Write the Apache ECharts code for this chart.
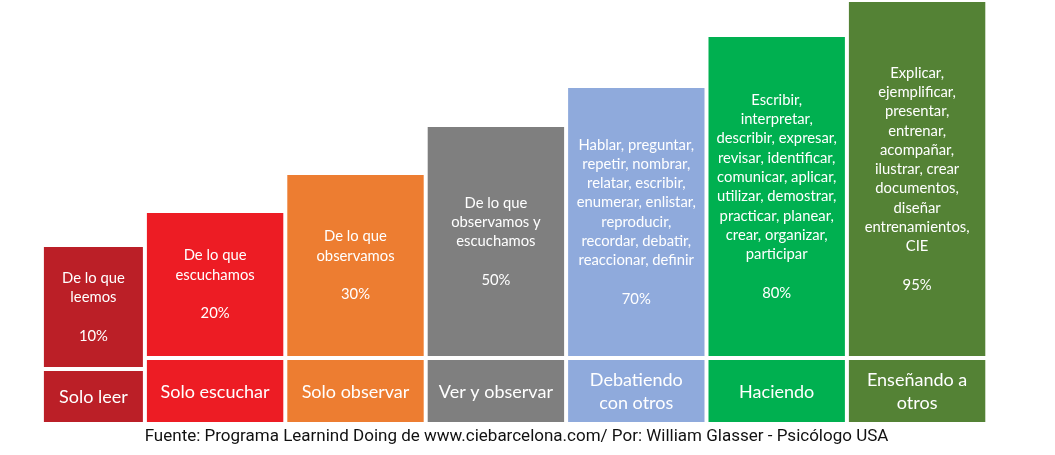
<!DOCTYPE html>
<html>
<head>
<meta charset="utf-8">
<script src="https://cdn.jsdelivr.net/npm/echarts@6/dist/echarts.min.js"></script>
<style>html,body{margin:0;padding:0;background:#fff}#c{width:1055px;height:455px}</style>
</head>
<body>
<div id="c"></div>
<script>
// ---- data ----
const categories = ['Solo leer', 'Solo escuchar', 'Solo observar', 'Ver y observar', 'Debatiendo\ncon otros', 'Haciendo', 'Enseñando a\notros'];
const descriptions = [
  'De lo que\nleemos',
  'De lo que\nescuchamos',
  'De lo que\nobservamos',
  'De lo que\nobservamos y\nescuchamos',
  'Hablar, preguntar,\nrepetir, nombrar,\nrelatar, escribir,\nenumerar, enlistar,\nreproducir,\nrecordar, debatir,\nreaccionar, definir',
  'Escribir,\ninterpretar,\ndescribir, expresar,\nrevisar, identificar,\ncomunicar, aplicar,\nutilizar, demostrar,\npracticar, planear,\ncrear, organizar,\nparticipar',
  'Explicar,\nejemplificar,\npresentar,\nentrenar,\nacompañar,\nilustrar, crear\ndocumentos,\ndiseñar\nentrenamientos,\nCIE'
];
const percentages = [10, 20, 30, 50, 70, 80, 95];
// visual height of each column top (axis units)
const barTops = [175, 209, 247, 295, 334, 385, 420];
const colors = ['#BB1F27', '#ED1C24', '#ED7D31', '#7F7F7F', '#8FAADC', '#00B050', '#548235'];
const footer = 'Fuente: Programa Learnind Doing de www.ciebarcelona.com/ Por: William Glasser - Psicólogo USA';

const chart = echarts.init(document.getElementById('c'), null, {renderer: 'canvas'});
const data = categories.map((c, i) => [i, barTops[i]]);

function renderItem(params, api) {
  const idx = api.value(0);
  const top = api.value(1);
  const first = idx === 0;
  const gap = 4;
  const band = api.size([1, 0])[0];
  const c0 = api.coord([idx, 0]);
  const half = (band - gap) / 2;
  const right = c0[0] + half;
  const left = first ? right - 99 : c0[0] - half;
  const cx = (left + right) / 2;
  const boxH = first ? 51 : 62;
  const base = first ? 55 : 66;
  const yBottom = c0[1];
  const yBoxTop = api.coord([idx, boxH])[1];
  const yBase = api.coord([idx, base])[1];
  const yTop = api.coord([idx, top])[1];
  const col = colors[idx];
  return {
    type: 'group',
    children: [
      {type: 'rect', shape: {x: left, y: yTop, width: right - left, height: yBase - yTop}, style: {fill: col}},
      {type: 'rect', shape: {x: left, y: yBoxTop, width: right - left, height: yBottom - yBoxTop}, style: {fill: col}},
      {type: 'text', style: {
        text: descriptions[idx] + '\n\n' + percentages[idx] + '%',
        x: cx, y: (yTop + yBase) / 2, align: 'center', verticalAlign: 'middle',
        fill: '#fff', fontSize: 14.8, fontFamily: 'Lato', lineHeight: 19.3
      }},
      {type: 'text', style: {
        text: categories[idx],
        x: cx, y: (yBoxTop + yBottom) / 2 + 1, align: 'center', verticalAlign: 'middle',
        fill: '#fff', fontSize: 18, fontFamily: 'Lato', lineHeight: 23
      }}
    ]
  };
}

chart.setOption({
  animation: false,
  grid: {left: 4.5, right: 67.7, top: 2, bottom: 33},
  xAxis: {type: 'category', data: categories, show: false},
  yAxis: {type: 'value', min: 0, max: 420, show: false},
  series: [{type: 'custom', renderItem: renderItem, data: data, encode: {x: 0, y: 1}}],
  graphic: [{
    type: 'text', x: 516.5, y: 437,
    style: {text: footer, fill: '#111', fontSize: 17, fontFamily: 'Roboto', align: 'center', verticalAlign: 'middle'}
  }]
});
</script>
</body>
</html>
